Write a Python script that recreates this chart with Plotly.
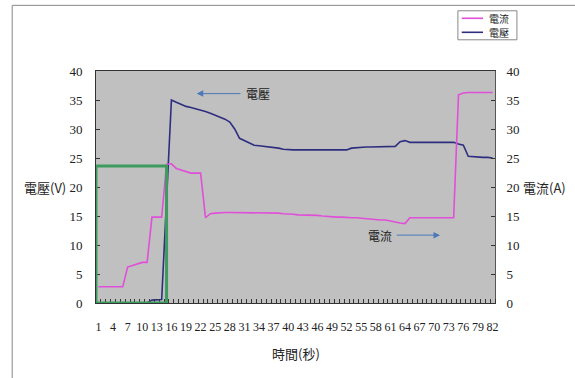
import plotly.graph_objects as go

# ---- data ----
time_s = list(range(1, 83))
current_a = [2.8, 2.8, 2.8, 2.8, 2.8, 2.8, 6.2, 6.5, 6.7, 7.0,
             7.0, 14.8, 14.8, 14.8, 23.9, 24.0, 23.2, 22.9, 22.6, 22.4,
             22.4, 22.4, 14.7, 15.4, 15.5, 15.6, 15.6, 15.6, 15.6, 15.6,
             15.6, 15.6, 15.6, 15.6, 15.6, 15.6, 15.5, 15.5, 15.4, 15.4,
             15.3, 15.2, 15.2, 15.2, 15.1, 15.1, 15.0, 14.9, 14.9, 14.8,
             14.8, 14.7, 14.7, 14.7, 14.6, 14.6, 14.5, 14.4, 14.3, 14.3,
             14.1, 14.0, 13.8, 13.7, 14.7, 14.7, 14.7, 14.7, 14.7, 14.7,
             14.7, 14.7, 14.7, 14.7, 35.9, 36.2, 36.3, 36.3, 36.3, 36.3,
             36.3, 36.3]
voltage_v = [0, 0, 0, 0, 0, 0, 0, 0, 0, 0,
             0, 0.5, 0.6, 0.6, 17.8, 35.0, 34.6, 34.2, 33.9, 33.7,
             33.5, 33.2, 33.0, 32.7, 32.4, 32.1, 31.7, 31.2, 30.0, 28.4,
             28.0, 27.6, 27.2, 27.1, 27.0, 27.0, 26.9, 26.7, 26.5, 26.4,
             26.4, 26.4, 26.4, 26.4, 26.4, 26.4, 26.4, 26.4, 26.4, 26.4,
             26.4, 26.4, 26.7, 26.8, 26.8, 26.9, 26.9, 26.9, 27.0, 27.0,
             27.0, 27.0, 27.8, 28.0, 27.7, 27.7, 27.7, 27.7, 27.7, 27.7,
             27.7, 27.7, 27.7, 27.7, 27.4, 27.2, 25.3, 25.2, 25.2, 25.1,
             25.1, 25.0]
series_names = ["電流", "電壓"]
x_tick_vals = list(range(1, 83, 3))
x_tick_text = [str(v) for v in x_tick_vals]
y_tick_vals = [0, 5, 10, 15, 20, 25, 30, 35, 40]

CJK = "Noto Sans CJK TC"
NUM = "Liberation Serif"
PINK = "#e04fd8"
NAVY = "#2e2e80"

fig = go.Figure()
fig.add_trace(go.Scatter(x=time_s, y=current_a, name=series_names[0],
                         mode="lines", line=dict(color=PINK, width=1.6),
                         yaxis="y2"))
fig.add_trace(go.Scatter(x=time_s, y=voltage_v, name=series_names[1],
                         mode="lines", line=dict(color=NAVY, width=1.6),
                         yaxis="y"))

fig.update_layout(
    width=575, height=378,
    margin=dict(l=96, r=80, t=71, b=75),
    paper_bgcolor="white", plot_bgcolor="#c0c0c0",
    font=dict(family=NUM, size=12, color="#222"),
    showlegend=False,
    xaxis=dict(range=[0.5, 82.5], tickmode="array", tickvals=x_tick_vals,
               ticktext=x_tick_text, ticks="", showgrid=False, zeroline=False,
               showline=True, linecolor="#333", linewidth=1, mirror=True,
               tickangle=0, ticklabelstandoff=13,
               tickfont=dict(family=NUM, size=12),
               minor=dict(tickmode="linear", tick0=0.5, dtick=1,
                          ticks="inside", ticklen=4, tickcolor="#333",
                          showgrid=False)),
    yaxis=dict(range=[0, 40], tickvals=y_tick_vals, ticks="inside", ticklen=4,
               tickcolor="#333", showgrid=False, zeroline=False,
               showline=True, linecolor="#333", linewidth=1,
               ticklabelstandoff=10, tickfont=dict(family=NUM, size=13)),
    yaxis2=dict(range=[0, 40], tickvals=y_tick_vals, ticks="inside",
                ticklen=4, tickcolor="#333", showgrid=False, zeroline=False,
                showline=True, linecolor="#555", linewidth=1,
                overlaying="y", side="right",
                ticklabelstandoff=8, tickfont=dict(family=NUM, size=13)),
)

# green highlight box
fig.add_shape(type="rect", xref="x", yref="y", x0=0.5, x1=15, y0=0, y1=23.6,
              line=dict(color="#3d9b5f", width=3), fillcolor="rgba(0,0,0,0)")

# chart-area border (left & top)
fig.add_shape(type="line", xref="paper", yref="paper", x0=-0.21, x1=1.25,
              y0=1.283, y1=1.283, line=dict(color="#888", width=1))
fig.add_shape(type="line", xref="paper", yref="paper", x0=-0.21, x1=-0.21,
              y0=1.283, y1=-0.35, line=dict(color="#888", width=1))

# legend (Excel-style compact box)
fig.add_shape(type="rect", xref="paper", yref="paper", x0=0.907, x1=1.055,
              y0=1.1345, y1=1.2595, line=dict(color="#888", width=1),
              fillcolor="white")
for name, color, ly in [(series_names[0], PINK, 1.2272),
                        (series_names[1], NAVY, 1.1668)]:
    fig.add_shape(type="line", xref="paper", yref="paper", x0=0.9166,
                  x1=0.970, y0=ly, y1=ly, line=dict(color=color, width=1.6))
    fig.add_annotation(text=name, xref="paper", yref="paper", x=1.009, y=ly,
                       xanchor="center", yanchor="middle", showarrow=False,
                       borderpad=0, font=dict(family=CJK, size=10))

# axis titles (horizontal)
fig.add_annotation(text="電壓(V)", xref="paper", yref="y", x=-0.128, y=20,
                   xanchor="center", yanchor="middle", showarrow=False,
                   font=dict(family=CJK, size=13))
fig.add_annotation(text="電流(A)", xref="paper", yref="y", x=1.125, y=20,
                   xanchor="center", yanchor="middle", showarrow=False,
                   font=dict(family=CJK, size=13))
fig.add_annotation(text="時間(秒)", xref="paper", yref="paper", x=0.5,
                   y=-0.217, xanchor="center", yanchor="middle",
                   showarrow=False, font=dict(family=CJK, size=13))

# callouts
fig.add_annotation(text="電壓", x=33.8, y=36.1, showarrow=False,
                   font=dict(family=CJK, size=12))
fig.add_annotation(text="", x=21.2, y=36.1, ax=30.5, ay=36.1, axref="x",
                   ayref="y", showarrow=True, arrowhead=2, arrowsize=1.3,
                   arrowwidth=1, arrowcolor="#4a78b8")
fig.add_annotation(text="電流", x=58.9, y=11.7, showarrow=False,
                   font=dict(family=CJK, size=12))
fig.add_annotation(text="", x=71.2, y=11.7, ax=62, ay=11.7, axref="x",
                   ayref="y", showarrow=True, arrowhead=2, arrowsize=1.3,
                   arrowwidth=1, arrowcolor="#4a78b8")

fig.write_html("out.html")
